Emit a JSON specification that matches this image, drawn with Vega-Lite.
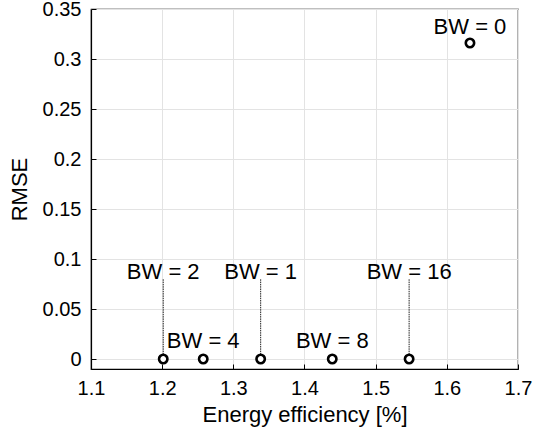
{
  "$schema": "https://vega.github.io/schema/vega-lite/v6.json",
  "width": 427,
  "height": 360,
  "autosize": {"type": "none"},
  "padding": {"left": 91, "top": 9, "right": 17, "bottom": 64},
  "background": "white",
  "config": {
    "font": "Liberation Sans",
    "view": {"stroke": "black", "strokeWidth": 1.2},
    "axis": {
      "grid": true,
      "gridColor": "#e3e3e3",
      "gridWidth": 1,
      "domainColor": "black",
      "domainWidth": 1.2,
      "tickColor": "black",
      "tickSize": -5,
      "labelFont": "Liberation Sans",
      "labelFontSize": 20,
      "labelColor": "black",
      "labelFlush": false,
      "labelOverlap": false,
      "labelBound": false,
      "titleFont": "Liberation Sans",
      "titleFontSize": 22,
      "titleFontWeight": "normal",
      "titleColor": "black"
    }
  },
  "data": {
    "values": [
      {"bw": "BW = 0", "efficiency": 1.6325, "rmse": 0.316, "labelY": 0.325, "leader": false},
      {"bw": "BW = 1", "efficiency": 1.3384, "rmse": 0, "labelY": 0.08, "leader": true},
      {"bw": "BW = 2", "efficiency": 1.2015, "rmse": 0, "labelY": 0.08, "leader": true},
      {"bw": "BW = 4", "efficiency": 1.2577, "rmse": 0, "labelY": 0.011, "leader": false},
      {"bw": "BW = 8", "efficiency": 1.439, "rmse": 0, "labelY": 0.011, "leader": false},
      {"bw": "BW = 16", "efficiency": 1.547, "rmse": 0, "labelY": 0.08, "leader": true}
    ]
  },
  "encoding": {
    "x": {
      "field": "efficiency",
      "type": "quantitative",
      "scale": {"domain": [1.1, 1.7], "nice": false, "zero": false},
      "axis": {
        "title": "Energy efficiency [%]",
        "values": [1.1, 1.2, 1.3, 1.4, 1.5, 1.6, 1.7],
        "format": "~f",
        "labelPadding": 14,
        "titlePadding": 6
      }
    }
  },
  "layer": [
    {
      "transform": [{"filter": "datum.leader"}],
      "mark": {"type": "rule", "color": "#222222", "strokeWidth": 1, "strokeDash": [1.5, 0.8]},
      "encoding": {
        "y": {
          "field": "rmse",
          "type": "quantitative",
          "scale": {"domain": [-0.01, 0.35], "nice": false, "zero": false},
          "axis": {
            "title": "RMSE",
            "values": [0, 0.05, 0.1, 0.15, 0.2, 0.25, 0.3, 0.35],
            "format": "~f",
            "labelPadding": 15,
            "titlePadding": 11
          }
        },
        "y2": {"field": "labelY"}
      }
    },
    {
      "mark": {"type": "point", "shape": "circle", "filled": false, "fill": "white", "color": "black", "strokeWidth": 2.6, "size": 70, "opacity": 1},
      "encoding": {
        "y": {"field": "rmse", "type": "quantitative"}
      }
    },
    {
      "mark": {"type": "text", "align": "center", "baseline": "alphabetic", "fontSize": 22, "color": "black", "font": "Liberation Sans"},
      "encoding": {
        "y": {"field": "labelY", "type": "quantitative"},
        "text": {"field": "bw"}
      }
    }
  ]
}
